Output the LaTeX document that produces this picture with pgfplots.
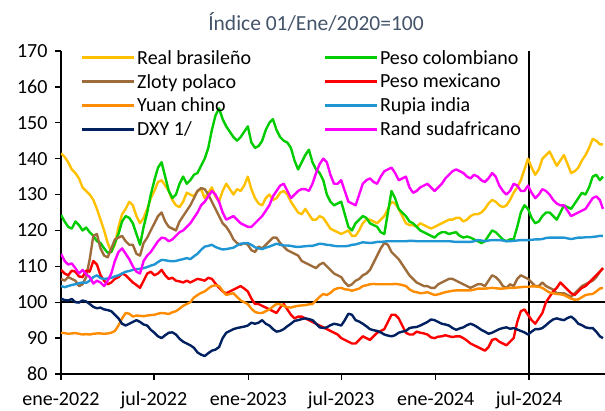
\documentclass[border=0pt]{standalone}
\usepackage{fontspec}
\setmainfont{Carlito}
\usepackage{pgfplots}
\pgfplotsset{compat=1.18}
\usepackage{pgfplotstable}
\definecolor{cBRL}{HTML}{FFC000}
\definecolor{cCOP}{HTML}{00CC00}
\definecolor{cPLN}{HTML}{9E6B3B}
\definecolor{cMXN}{HTML}{FF0000}
\definecolor{cCNY}{HTML}{FF8C00}
\definecolor{cINR}{HTML}{1F96D3}
\definecolor{cDXY}{HTML}{002060}
\definecolor{cZAR}{HTML}{FF00FF}
\definecolor{titlec}{HTML}{44546A}

\pgfplotstableread{
day brl cop pln mxn cny inr dxy zar
0 141.5 124.3 106.5 109 91.5 104.5 101 113.5
7 140.5 122.5 106 108 91.4 104.2 100.6 111.5
14 139 121 107 107.5 91.2 104.5 100.5 110.5
21 137 120.5 106.5 108.8 91.3 104.8 100.9 110.8
28 136 122.5 106 108.5 91.4 105 100 109.5
35 134.5 121.5 104.5 107.2 91.2 105.3 99.9 108
42 132 120 105 107 91 105.5 100.5 109
49 131 120.8 107 108.8 91.1 105.4 100.2 107.8
56 130 119.5 112 108.5 91 106 99.5 107
63 128.5 118.5 118.5 111.5 91.2 107 98.7 105.2
70 126 117 119 110.5 91.3 107.5 98.3 106
77 123 116.5 115 107.5 91.3 106.7 98.5 105.5
84 120 115 113 106 91.2 106.5 98 104.5
91 116.5 113.8 112.5 105 91.3 106.6 97.8 106
98 114 114 115 105.5 91.5 106.8 97.5 108
105 116 116.5 117.5 106.5 92 107.2 96.5 111.5
112 121 119 118 107 93.5 107.5 95.5 114
119 124.5 122.5 118.5 108 95.5 108 94 115
126 126 124 117 107.5 97 108.5 93.5 113.5
133 128 123.5 116 106.5 96.8 108.7 94 112
140 127 122 116 105.5 96 109 94.5 110
147 124 119 113.5 104.8 96.3 109.2 95 108.5
154 122 116 113 104 96.2 109.3 94.5 108
161 123.5 121 116.5 106 96.1 109.5 93.8 111.5
168 126 125 118 108 96.3 109.8 93.5 113
175 129 130 120 108.5 96.4 110.2 92.3 114
182 131 134 122 107.5 96.5 110.5 91.5 115.5
189 133.5 137.5 124 108 96.8 111.2 90.5 117
196 134 139 125 109 97 111.8 90 118
203 132.5 135 122.5 107.5 96.9 111.7 90.8 117.8
210 131 131 121 106.5 96.7 111.5 91.5 117
217 128.5 129 120.5 106.8 97.2 111.4 91.6 117.5
224 127 130 120 106 97.5 111.5 91 118.5
231 126.5 133 122.5 105.8 98.2 111.8 89.8 119.5
238 128 135 124 105.5 99 112 89 120
245 130.5 133 125.5 106 99.5 112.3 88.5 121
252 130 134 127 105.5 100 112 88 122
259 129.5 135.5 129 106 101.3 112.8 87.3 123.5
266 131 136 131 106.5 102 113.5 86 125
273 131.5 138 131.8 106.3 102.6 114.6 85.4 127
280 129 140 131.5 106 103 115.5 85 128
287 130.5 143 130 106.8 103.8 115.7 85.8 129.5
294 132 148 128 106.5 104.5 116 86.5 131
301 129.5 152 126 105.2 104.7 115.4 86.8 130
308 128 154 124 104 104.5 115 87.5 128
315 131 151 122 103 103.2 114.7 90 125
322 133 149 121 102.5 102 114.8 91.5 123
329 131.5 147.5 119.5 103 102.3 115 92 123.5
336 130 146 117.5 103.5 102.5 115.2 92.5 124
343 131.5 145 116.5 104 101.5 115.8 92.8 123
350 131 146 116 104.5 100.5 116.3 93 122
357 132.5 147.5 116.5 103.8 100 116.4 93.2 121.5
364 135 149 116 103 99.5 116.5 93.5 121
371 131.5 144.5 114.5 101 98.2 116 94.3 121
378 129 143 114 99.5 97.3 115.3 94 122
385 127.5 143.5 115.5 99.5 97 115 94.3 123
392 127 145 115 99 97 114.8 95 124
399 129 148 116 98.5 97.5 115.2 94 125.5
406 130 150 117 98 98 115.5 93.5 127
413 128.5 151 118 97.5 98.8 115.9 92.5 129.5
420 129 148 118 97 99.5 116.3 91.8 131
427 130.5 146 116.5 98.5 99.4 116 92 132.5
434 131 145 115.5 99.5 99 115.8 92.5 133
441 130 144.5 114.5 98 98.6 115.8 93.3 131
448 128 143 114 96.5 98.5 115.7 94 129
455 126.5 139.5 113.5 95.5 98.8 115.5 94.8 130
462 125 137 113 96 99 115.4 95 131
469 124.5 139 111.5 96 99.1 115.5 95.3 131.5
476 126 141 111 95.5 99.2 115.6 95.5 131.5
483 124.5 142.5 110.5 95 99.4 115.7 95.3 131
490 123 139 110 94.5 99.5 115.7 95 133
497 123 137 109.5 94 100.5 116 94 136
504 124 136 110.5 93.5 101.5 116.3 93 138.5
511 123.5 134 111 93 102.3 116.2 92.8 140
518 122 130 110 92.5 102 116 93 139
525 120.5 128 109 92 102.6 115.9 93.6 135.5
532 120 127 108 91.5 103.5 115.7 94 133
539 119.5 127.5 107.5 91 103.9 115.6 93.8 133
546 119 128 107 90 104 115.6 93.5 134
553 119.5 124.5 105.5 89.5 103.6 115.6 95 131
560 120 121 104.5 89 103.5 115.7 96.8 128
567 118.5 120 105 88.5 103.2 116 96.5 127.5
574 118.5 122 106 88.5 103.5 116.1 95 127
581 120 123 106.5 89.5 103.8 116.4 94.6 130
588 122 124 107.5 90.5 104.5 116.7 94 133
595 123 123.5 108 90 104.7 116.6 93.3 134
602 123 122 109 89.5 105 116.5 92.5 134.5
609 122.5 121.5 111 90.5 105.1 116.6 92.2 133.5
616 122 121 113 91.5 105 116.8 92 133
623 123 119.5 115 92 105 116.8 91.6 135
630 124 119 116.5 92.5 105 116.9 91 136.5
637 126 125 116 94.5 105 117 90.7 137
644 128 131 114 96.5 105 117 90.5 137.5
651 127.5 129 113 96.5 105.1 117 90.8 136
658 126 126 112 95.5 105 117 91.5 134
665 124 125 110.5 93.5 104.8 117 91.8 134.5
672 122 124 109 91.5 104.5 117 92 135
679 121.5 122.5 107.5 91 103.6 117.1 92.8 132
686 121.5 122 106.5 91 103 117.1 93 130.5
693 121 121 105.5 91.8 102.8 117 93.1 131
700 122 120 105 91.5 102.5 117 93.5 132
707 121.5 119.5 104.5 91.3 102.6 117 94 132.5
714 121 119 104.5 91 102.8 117 94.5 133
721 120.5 118.5 104 90.2 102.4 117 95.2 132
728 121 118 104 90 102 117 95 131
735 121.5 119 105 90.4 102.2 117 94.5 132
742 122 119.5 105.5 90.5 102.5 117 94 133
749 122.5 119.5 106 90.8 102.8 117 93.8 134.5
756 123 119 106.5 90.5 103 117 93.5 135.5
763 123 119.3 106.5 90.3 103.2 116.9 92.8 136.5
770 123.5 119.5 106 90.5 103.3 116.8 92.3 137
777 123.5 118.5 105.5 90.5 103.3 116.8 92.7 136.5
784 122.5 118 105 90 103.3 116.8 93 136
791 123 118.3 104.5 89.3 103.3 116.8 93.6 135
798 124 118 104 88.5 103.3 116.8 94 134.5
805 124.5 117.5 104.5 88 103.5 117 93.6 135.5
812 124.5 117 105 87.5 103.8 117.3 93 135
819 125 116.5 105 87 103.8 117.2 92.3 134
826 126 117 104.5 86.5 103.8 117 91.8 133.5
833 127.5 118.5 106 87.5 103.9 117.2 91.2 134.5
840 128.5 120 107.5 89.5 104 117.3 91.5 136
847 128 119.5 107 89.8 103.9 117.3 92 135
854 127 118.5 106 89 103.8 117.3 92.5 132.5
861 126.5 117.5 104.5 88.5 103.8 117.2 92.8 131
868 127 117 104 88 103.9 117 93 130
875 128.5 117.5 105 89 104 117 92.6 131
882 130.5 117.5 104.5 90 104 117.1 92.8 133
889 132 121 106.5 94.5 104.1 117.2 92.4 132.5
896 134 125 107.5 97.5 104.2 117.3 92 131
903 137 127 107 98 104.3 117.3 91.6 131
910 140 126 106.5 96.5 104.3 117.3 91 132.5
917 137.5 123.5 105.5 95 104.4 117.4 91.8 130.5
924 135.5 122 104.5 94 104.4 117.5 92.5 129
931 137 122.5 104.5 95.5 104.3 117.5 92.5 130
938 140 124 105.5 97 104 117.6 92.8 131.5
945 141 125 104.5 100 103.3 117.9 93.6 131
952 142 125 104 101.5 102.7 118 94.5 130
959 140 124 103.5 103 102.5 118 95.2 128.5
966 138 123 102.5 104 102.3 118 95.5 127.5
973 139.5 125 102.5 105.5 102.2 118 95.2 127
980 141 127 102.5 104.5 102 118 95 127
987 138.5 126.5 102 103.5 101.5 117.8 95.6 125.5
994 136 126 101.5 102.5 101 117.6 96 124
1001 136.5 127.5 102.5 102 100.7 117.8 95.2 124.5
1008 137.5 129 103.5 103 100.8 118 94 125
1015 139.5 130.5 104.5 104 101.4 118 93.6 125.5
1022 141 130 105 104.5 102 118.1 93 126
1029 143 132 105.5 105.5 102.2 118.1 92.8 127.5
1036 145.5 135 106 106.5 102.3 118.2 92.8 129
1043 145 135.5 107 107.5 103 118.3 91.8 129.5
1050 144 134 108.5 108.5 103.8 118.5 90.5 128.5
1056 144 135 109.5 109.5 104 118.5 90 126
}\fx

\begin{document}
\begin{tikzpicture}
\useasboundingbox (-61pt,-37pt) rectangle (544pt,374pt);
\node[font=\fontsize{21.5}{25}\selectfont, text=titlec, anchor=base] at (255pt,343pt) {Índice 01/Ene/2020=100};
\begin{axis}[
  anchor=south west,
  scale only axis, width=544pt, height=323pt,
  xmin=0, xmax=1060, ymin=80, ymax=170,
  axis x line*=bottom, axis y line*=left,
  axis line style={line width=1.6pt, black, -},
  xtick={0,181,365,546,730,912},
  xticklabels={ene-2022,jul-2022,ene-2023,jul-2023,ene-2024,jul-2024},
  ytick={80,90,...,170},
  tick align=outside, major tick length=6pt,
  tick style={line width=1.3pt, black},
  ticklabel style={font=\fontsize{20}{24}\selectfont},
  xticklabel style={yshift=-8.5pt},
  yticklabel style={xshift=-4pt},
  /pgf/number format/assume math mode=true,
  legend columns=2,
  legend cell align=left,
  legend style={draw=none, fill=none, at={(0.035,1.009)}, anchor=north west,
    font=\fontsize{20}{24}\selectfont, inner sep=0pt, row sep=4.5pt,
    /tikz/every even column/.append style={column sep=70pt}},
  legend image code/.code={\draw[#1, line width=3pt] (0pt,0pt) -- (52pt,0pt);},
  every axis plot/.append style={line width=2.4pt, line join=round},
]
\addplot[black, line width=1.6pt, forget plot] coordinates {(0,100) (1060,100)};
\addplot[black, line width=1.6pt, forget plot] coordinates {(912,80) (912,170)};
\addplot[cBRL] table[x=day,y=brl] {\fx};
\addlegendentry{Real brasileño}
\addplot[cCOP] table[x=day,y=cop] {\fx};
\addlegendentry{Peso colombiano}
\addplot[cPLN] table[x=day,y=pln] {\fx};
\addlegendentry{Zloty polaco}
\addplot[cMXN] table[x=day,y=mxn] {\fx};
\addlegendentry{Peso mexicano}
\addplot[cCNY] table[x=day,y=cny] {\fx};
\addlegendentry{Yuan chino}
\addplot[cINR] table[x=day,y=inr] {\fx};
\addlegendentry{Rupia india}
\addplot[cDXY] table[x=day,y=dxy] {\fx};
\addlegendentry{DXY 1/}
\addplot[cZAR] table[x=day,y=zar] {\fx};
\addlegendentry{Rand sudafricano}
\end{axis}
\end{tikzpicture}
\end{document}
